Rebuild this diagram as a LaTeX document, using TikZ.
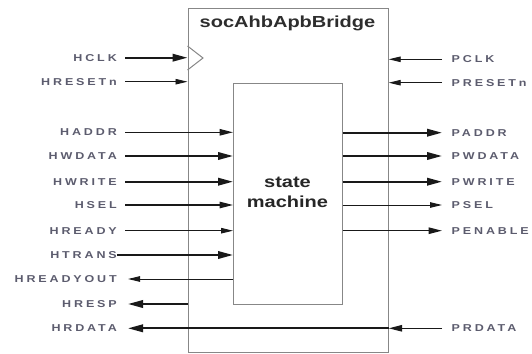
\documentclass[tikz,border=0pt]{standalone}
\usepackage{fontspec}
\setmainfont{Liberation Sans}
\newfontfamily\labfont[LetterSpace=23]{Liberation Sans}
\usetikzlibrary{arrows.meta}
\definecolor{boxgray}{RGB}{135,135,135}
\definecolor{labgray}{RGB}{92,92,110}
\definecolor{titlegray}{RGB}{45,45,45}
\newcommand{\wide}[1]{\scalebox{1.25}[1]{#1}}
\begin{document}
\begin{tikzpicture}[x=1pt,y=-1pt,
  boxline/.style={draw=boxgray,line width=1pt},
  lablft/.style={anchor=east,inner xsep=8pt,inner ysep=0pt,text=labgray,font=\labfont\bfseries\fontsize{10}{12}\selectfont},
  labrgt/.style={anchor=west,inner xsep=9.5pt,inner ysep=0pt,text=labgray,font=\labfont\bfseries\fontsize{10}{12}\selectfont},
  thk/.style={draw=black!90,line width=2pt,-{Triangle[length=15pt,width=7.5pt]}},
  mid/.style={draw=black!90,line width=1.3pt,-{Triangle[length=13.5pt,width=6.5pt]}},
  thn/.style={draw=black!90,line width=0.9pt,-{Triangle[length=12pt,width=5.5pt]}}]
\useasboundingbox (0,0) rectangle (532,353);
% boxes
\node[boxline,minimum width=200.2pt,minimum height=343.5pt,inner sep=0pt,anchor=north west] (outer) at (187.5,8) {};
\node[boxline,minimum width=108.7pt,minimum height=221.3pt,inner sep=0pt,anchor=north west] (inner) at (233,82.7) {};
\draw[boxline] (187.5,46) -- (203,58) -- (187.5,70);
\node[text=titlegray,font=\bfseries\fontsize{16}{20}\selectfont] (title) at (287.5,23) {\wide{socAhbApbBridge}};
\node[text=black!85,font=\bfseries\fontsize{16}{20}\selectfont] (sm) at (287.5,193) {\wide{\begin{tabular}{@{}c@{}}state\\machine\end{tabular}}};
% left labels
\node[lablft] (hclk) at (125,57.7) {\wide{HCLK}};
\node[lablft] (hresetn) at (125,81.7) {\wide{HRESETn}};
\node[lablft] (haddr) at (125,132.3) {\wide{HADDR}};
\node[lablft] (hwdata) at (125,156) {\wide{HWDATA}};
\node[lablft] (hwrite) at (125,181.7) {\wide{HWRITE}};
\node[lablft] (hsel) at (125,205) {\wide{HSEL}};
\node[lablft] (hready) at (125,230.7) {\wide{HREADY}};
\node[lablft,inner xsep=0pt] (htrans) at (117,255) {\wide{HTRANS}};
\node[lablft,inner xsep=11pt] (hreadyout) at (128,279) {\wide{HREADYOUT}};
\node[lablft,inner xsep=11pt] (hresp) at (128,304) {\wide{HRESP}};
\node[lablft,inner xsep=11pt] (hrdata) at (128,328.3) {\wide{HRDATA}};
% right labels
\node[labrgt] (pclk) at (442,59.3) {\wide{PCLK}};
\node[labrgt] (presetn) at (442,82.7) {\wide{PRESETn}};
\node[labrgt] (paddr) at (442,132.7) {\wide{PADDR}};
\node[labrgt] (pwdata) at (442,156) {\wide{PWDATA}};
\node[labrgt] (pwrite) at (442,181.7) {\wide{PWRITE}};
\node[labrgt] (psel) at (442,205) {\wide{PSEL}};
\node[labrgt] (penable) at (442,230.7) {\wide{PENABLE}};
\node[labrgt] (prdata) at (442,328.3) {\wide{PRDATA}};
% left connectors
\draw[thk] (hclk.east) -- (hclk.east -| outer.west);
\draw[thn] (hresetn.east) -- (hresetn.east -| outer.west);
\draw[mid] (haddr.east) -- (haddr.east -| inner.west);
\draw[thk] (hwdata.east) -- (hwdata.east -| inner.west);
\draw[thk] (hwrite.east) -- (hwrite.east -| inner.west);
\draw[mid] (hsel.east) -- (hsel.east -| inner.west);
\draw[thn] (hready.east) -- (hready.east -| inner.west);
\draw[thk] (htrans.east) -- (htrans.east -| inner.west);
\draw[thn] (hreadyout.east -| inner.west) -- (hreadyout.east);
\draw[thk] (hresp.east -| outer.west) -- (hresp.east);
\draw[thk] (hrdata.east -| outer.east) -- (hrdata.east);
% right connectors
\draw[thn] (pclk.west) -- (pclk.west -| outer.east);
\draw[thn] (presetn.west) -- (presetn.west -| outer.east);
\draw[thk] (paddr.west -| inner.east) -- (paddr.west);
\draw[thk] (pwdata.west -| inner.east) -- (pwdata.west);
\draw[thk] (pwrite.west -| inner.east) -- (pwrite.west);
\draw[thn] (psel.west -| inner.east) -- (psel.west);
\draw[mid] (penable.west -| inner.east) -- (penable.west);
\draw[mid] (prdata.west) -- (prdata.west -| outer.east);
\end{tikzpicture}
\end{document}
